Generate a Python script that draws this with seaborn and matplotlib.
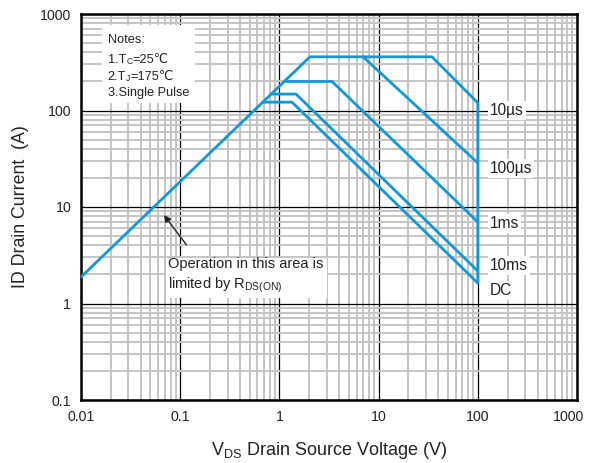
import numpy as np
import pandas as pd
import matplotlib
matplotlib.use("Agg")
import matplotlib.pyplot as plt
from matplotlib.patches import Rectangle
from matplotlib.transforms import ScaledTranslation
from matplotlib.ticker import LogLocator, FixedLocator, FixedFormatter, NullFormatter
import seaborn as sns

sns.set_theme(style="white")
plt.rcParams['font.family'] = ['Liberation Sans', 'DejaVu Sans']
plt.rcParams['mathtext.fontset'] = 'custom'
plt.rcParams['mathtext.rm'] = 'Liberation Sans'

# SOA curves (V in volts, I in amps)
v_10us = [0.01, 2.03, 34.5, 100, 100]
i_10us = [1.88, 360, 360, 120, 1.63]
v_100us = [6.97, 100]
i_100us = [360, 28.6]
v_1ms = [1.12, 3.39, 100]
i_1ms = [200, 200, 7.0]
v_10ms = [0.83, 1.47, 100]
i_10ms = [148, 148, 2.17]
v_dc = [0.68, 1.34, 100]
i_dc = [122, 122, 1.63]

curve_names = ["10µs", "100µs", "1ms", "10ms", "DC"]
label_y = [99, 25, 6.8, 2.5, 1.37]
x_ticks = [0.01, 0.1, 1, 10, 100, 1000]
x_ticklabels = ["0.01", "0.1", "1", "10", "100", "1000"]
y_ticks = [0.1, 1, 10, 100, 1000]
y_ticklabels = ["0.1", "1", "10", "100", "1000"]

# notes lines as (text, subscript, rest)
notes = [("Notes:", "", ""), ("1.T", "C", "=25℃"), ("2.T", "J", "=175℃"), ("3.Single Pulse", "", "")]
notes_y = [0.925, 0.873, 0.829, 0.788]

blue = "#1197d8"
ink = "#222222"

frames = []
for name, v, i in zip(curve_names, [v_10us, v_100us, v_1ms, v_10ms, v_dc],
                      [i_10us, i_100us, i_1ms, i_10ms, i_dc]):
    frames.append(pd.DataFrame({"V": v, "I": i, "curve": name}))
df = pd.concat(frames, ignore_index=True)

fig = plt.figure(figsize=(5.91, 4.63), dpi=100)
ax = fig.add_axes([81 / 591, 1 - 400 / 463, 496 / 591, 386 / 463])

ax.set_xscale("log")
ax.set_yscale("log")
ax.set_xlim(0.01, 1000)
ax.set_ylim(0.1, 1000)

# grid
ax.xaxis.set_minor_locator(LogLocator(base=10, subs=np.arange(2, 10)))
ax.yaxis.set_minor_locator(LogLocator(base=10, subs=np.arange(2, 10)))
ax.xaxis.set_minor_formatter(NullFormatter())
ax.yaxis.set_minor_formatter(NullFormatter())
ax.grid(which="minor", color="#c4c4c4", linewidth=1.4, zorder=0)
ax.grid(which="major", color="black", linewidth=0.9, zorder=0)
ax.set_axisbelow(True)

sns.lineplot(data=df, x="V", y="I", hue="curve", units="curve", estimator=None,
             sort=False, palette=[blue] * len(curve_names), legend=False,
             linewidth=2.0, ax=ax, zorder=3)

ax.xaxis.set_major_locator(FixedLocator(x_ticks))
ax.xaxis.set_major_formatter(FixedFormatter(x_ticklabels))
ax.yaxis.set_major_locator(FixedLocator(y_ticks))
ax.yaxis.set_major_formatter(FixedFormatter(y_ticklabels))
ax.tick_params(which="both", length=0, labelsize=10.2, pad=7, colors=ink)
# last x label sits a little left of its tick, as in the datasheet
last = ax.xaxis.get_major_ticks()[-1].label1
last.set_transform(last.get_transform() + ScaledTranslation(-6 / 72, 0, fig.dpi_scale_trans))

for s in ax.spines.values():
    s.set_color("black")
    s.set_linewidth(1.8)

ax.set_xlabel(r"V$_{\mathrm{DS}}$ Drain Source Voltage (V)", fontsize=13, labelpad=12, color=ink)
ax.set_ylabel("ID Drain Current  (A)", fontsize=12.8, labelpad=8, color=ink)

# curve labels
for name, y in zip(curve_names, label_y):
    ax.text(133, y, name, fontsize=11.2, va="center", ha="left", color=ink, zorder=4,
            bbox=dict(facecolor="white", edgecolor="none", pad=1.5))

# notes box
ax.add_patch(Rectangle((0.042, 0.769), 0.188, 0.203, transform=ax.transAxes,
                       facecolor="white", edgecolor="none", zorder=2))
for (main, sub, rest), y in zip(notes, notes_y):
    t = ax.text(0.054, y, main, transform=ax.transAxes, fontsize=9.2,
                va="baseline", ha="left", color=ink, zorder=4)
    if sub:
        s = ax.annotate(sub, xy=(1, 0), xycoords=t, xytext=(0.1, 0), textcoords="offset points",
                        fontsize=6.2, va="bottom", ha="left", color=ink, zorder=4)
        ax.annotate(rest, xy=(1, 0), xycoords=s, xytext=(0, 0), textcoords="offset points",
                    fontsize=9.2, va="bottom", ha="left", color=ink, zorder=4)

# R_DS(on) annotation
ax.annotate("", xy=(0.066, 8.7), xytext=(0.12, 3.85),
            arrowprops=dict(arrowstyle="-|>", color=ink, lw=1.0, mutation_scale=10),
            zorder=4)
ax.text(0.076, 3.05, "Operation in this area is\nlimited by R$_{\\mathrm{DS(ON)}}$",
        fontsize=10.5, va="top", ha="left", color=ink, linespacing=1.35, zorder=4,
        bbox=dict(facecolor="white", edgecolor="none", pad=2))

fig.savefig("out.png", dpi=100)
